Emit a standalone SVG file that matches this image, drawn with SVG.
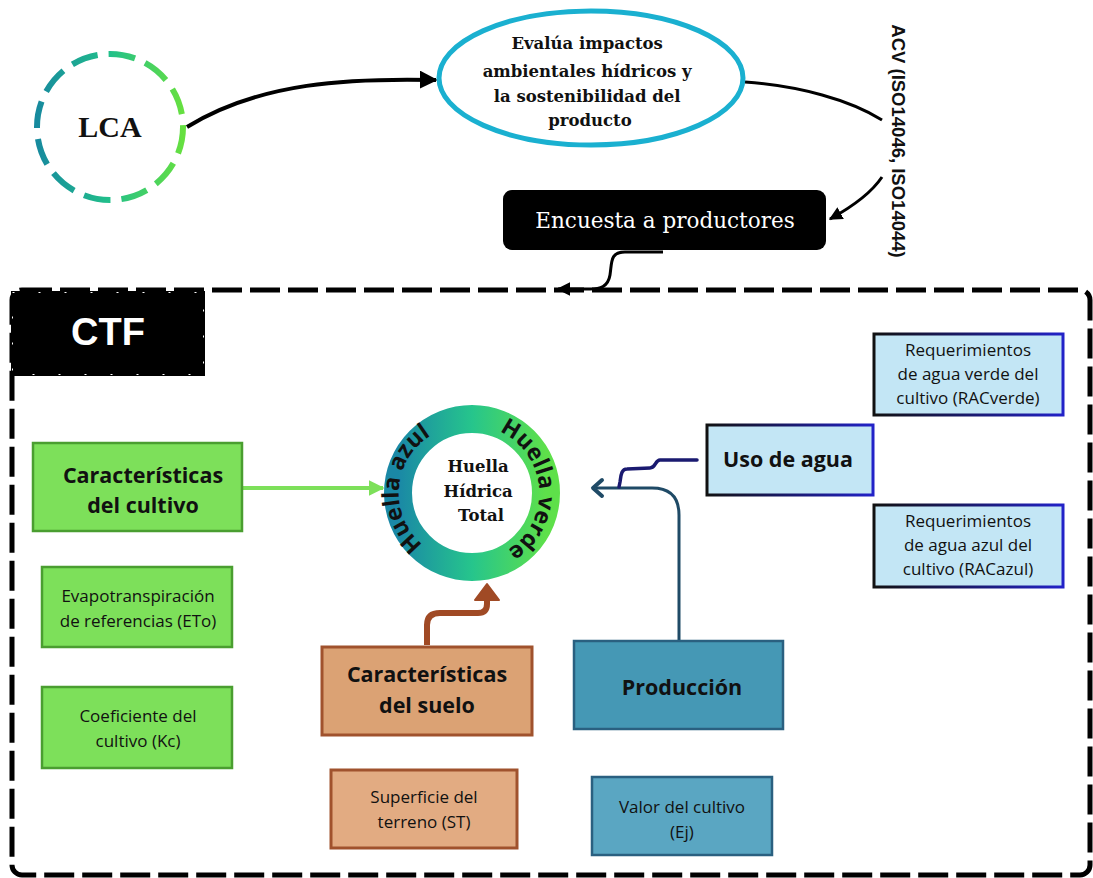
<svg xmlns="http://www.w3.org/2000/svg" width="1093" height="878" viewBox="0 0 1093 878">
<defs>
<style>
.serifb{font-family:"DejaVu Serif","Liberation Serif",serif;font-weight:bold;fill:#111}
.sans{font-family:"Open Sans","Liberation Sans",sans-serif;fill:#111}
.bold{font-weight:bold}
.conn{fill:none}
</style>
<linearGradient id="lcaGrad" x1="0" y1="0" x2="1" y2="0">
<stop offset="0" stop-color="#178a9e"/><stop offset="0.5" stop-color="#22c08a"/><stop offset="1" stop-color="#66e040"/>
</linearGradient>
<linearGradient id="ringGrad" x1="0" y1="0" x2="1" y2="0">
<stop offset="0" stop-color="#1a88a6"/><stop offset="0.5" stop-color="#26c58c"/><stop offset="1" stop-color="#5ee04a"/>
</linearGradient>
<linearGradient id="blueStroke" x1="0" y1="0" x2="1" y2="0">
<stop offset="0" stop-color="#111"/><stop offset="1" stop-color="#2222c8"/>
</linearGradient>
<marker id="arrBlack" viewBox="0 0 10 10" refX="9" refY="5" markerWidth="4.5" markerHeight="4.5" orient="auto" markerUnits="strokeWidth">
<path d="M0,0 L10,5 L0,10 z" fill="#000"/>
</marker>
<marker id="arrGreen" viewBox="0 0 10 10" refX="9" refY="5" markerWidth="4" markerHeight="4" orient="auto" markerUnits="strokeWidth">
<path d="M0,0 L10,5 L0,10 z" fill="#7de05a"/>
</marker>
<path id="arcAzul" d="M461,560 A67,67 0 0 1 470.8,426"/>
<path id="arcVerde" d="M473.2,426 A67,67 0 0 1 482.5,559.2"/>
</defs>

<rect width="1093" height="878" fill="#fff"/>

<!-- CTF frame -->
<g id="ctf-frame">
<rect x="12" y="290" width="1078" height="585" rx="10" fill="none" stroke="#000" stroke-width="5" stroke-dasharray="30 8"/>
</g>
<g id="ctf-label">
<rect x="11" y="291" width="194" height="85" fill="#000"/>
<rect x="12.5" y="292.5" width="191" height="82" fill="none" stroke="#fff" stroke-width="1" stroke-dasharray="2 24"/>
<text x="108" y="345" text-anchor="middle" font-family="Liberation Sans, Arial, sans-serif" font-weight="bold" font-size="38" fill="#fff">CTF</text>
</g>

<!-- connectors -->
<g id="connectors">
<path class="conn" d="M187,127 C260,82 350,78 436,80" stroke="#000" stroke-width="4" marker-end="url(#arrBlack)"/>
<path class="conn" d="M745,82 C800,86 850,100 882,120" stroke="#000" stroke-width="3"/>
<path class="conn" d="M882,177 C870,195 850,208 830,219" stroke="#000" stroke-width="3" marker-end="url(#arrBlack)"/>
<path class="conn" d="M663,252 L625,252 C610,252 612,262 610,275 C608,287 600,289 590,289 L558,289" stroke="#000" stroke-width="3" marker-end="url(#arrBlack)"/>
<path class="conn" d="M243,488 L383,488" stroke="#7de05a" stroke-width="4" marker-end="url(#arrGreen)"/>
<path class="conn" d="M427,645 L427,625 Q427,613 440,613 L478,613 Q487,613 487,604 L487,598" stroke="#a04a25" stroke-width="6"/>
<path d="M475,600 L487,584 L499,600 z" fill="#a04a25" stroke="#a04a25" stroke-width="2" stroke-linejoin="round"/>
<path class="conn" d="M679,640 L679,515 Q679,488 652,488 L596,488" stroke="#1f4a66" stroke-width="3"/>
<path class="conn" d="M697,460 L660,460 C655,460 656,468 650,468 L627,469 C621,469 621,476 620,482 L619,487" stroke="#1a1a70" stroke-width="3.5" stroke-linecap="round"/>
<polyline class="conn" points="602,480 593,488 602,496" stroke="#1f4a66" stroke-width="4" stroke-linejoin="round" stroke-linecap="round"/>
<text transform="translate(892,141) rotate(90)" text-anchor="middle" font-family="Liberation Sans, Arial, sans-serif" font-weight="bold" font-size="18.5" fill="#111">ACV (ISO14046, ISO14044)</text>
</g>

<!-- LCA -->
<g id="lca">
<circle cx="110" cy="127" r="73" fill="#fff" stroke="url(#lcaGrad)" stroke-width="6" stroke-dasharray="27 11"/>
<text x="110" y="137" text-anchor="middle" font-family="Liberation Serif, serif" font-weight="bold" font-size="30" fill="#111">LCA</text>
</g>

<!-- Ellipse -->
<g id="evalua">
<ellipse cx="591" cy="78" rx="152" ry="67" fill="#fff" stroke="#1ab0d0" stroke-width="5"/>
<text class="serifb" font-size="16.5" text-anchor="middle">
<tspan x="590" y="49">Evalúa impactos</tspan>
<tspan x="590" y="77">ambientales hídricos y</tspan>
<tspan x="590" y="102">la sostenibilidad del</tspan>
<tspan x="590" y="126">producto</tspan>
</text>
</g>

<!-- Encuesta -->
<g id="encuesta">
<rect x="503" y="190" width="323" height="60" rx="9" fill="#000"/>
<text x="665" y="228" text-anchor="middle" font-family="DejaVu Serif, Liberation Serif, serif" font-size="21.5" fill="#fff">Encuesta a productores</text>
</g>

<!-- Ring -->
<g id="huella-total">
<circle cx="472" cy="493" r="74" fill="#fff" stroke="url(#ringGrad)" stroke-width="28"/>
<text class="sans" font-size="23" font-weight="bold"><textPath href="#arcAzul" startOffset="50%" text-anchor="middle">Huella azul</textPath></text>
<text class="sans" font-size="23" font-weight="bold"><textPath href="#arcVerde" startOffset="50%" text-anchor="middle">Huella verde</textPath></text>
<text class="serifb" font-size="16.5" text-anchor="middle">
<tspan x="481" y="472">Huella</tspan>
<tspan x="481" y="497">Hídrica</tspan>
<tspan x="481" y="521">Total</tspan>
</text>
</g>

<!-- Green boxes -->
<g id="caract-cultivo">
<rect x="33" y="443" width="209" height="88" fill="#7de05a" stroke="#4a9e30" stroke-width="2.5"/>
<text class="sans bold" font-size="21.5" text-anchor="middle"><tspan x="143" y="483">Características</tspan><tspan x="143" y="513">del cultivo</tspan></text>
</g>
<g id="eto">
<rect x="42" y="567" width="190" height="80" fill="#7de05a" stroke="#4a9e30" stroke-width="2.5"/>
<text class="sans" font-size="17" text-anchor="middle"><tspan x="138" y="602">Evapotranspiración</tspan><tspan x="138" y="627">de referencias (ETo)</tspan></text>
</g>
<g id="kc">
<rect x="42" y="687" width="190" height="81" fill="#7de05a" stroke="#4a9e30" stroke-width="2.5"/>
<text class="sans" font-size="17" text-anchor="middle"><tspan x="138" y="722">Coeficiente del</tspan><tspan x="138" y="747">cultivo (Kc)</tspan></text>
</g>

<!-- Soil boxes -->
<g id="caract-suelo">
<rect x="322" y="647" width="210" height="88" fill="#dba274" stroke="#a0522d" stroke-width="3"/>
<text class="sans bold" font-size="21.5" text-anchor="middle"><tspan x="427" y="682">Características</tspan><tspan x="427" y="713">del suelo</tspan></text>
</g>
<g id="superficie">
<rect x="331" y="770" width="186" height="78" fill="#e2ab82" stroke="#a0522d" stroke-width="3"/>
<text class="sans" font-size="17" text-anchor="middle"><tspan x="424" y="803">Superficie del</tspan><tspan x="424" y="828">terreno (ST)</tspan></text>
</g>

<!-- Production boxes -->
<g id="produccion">
<rect x="574" y="641" width="209" height="88" fill="#4598b5" stroke="#2a6080" stroke-width="2.5"/>
<text class="sans bold" font-size="21.5" text-anchor="middle" x="682" y="695">Producción</text>
</g>
<g id="valor">
<rect x="592" y="777" width="180" height="78" fill="#5aa6c2" stroke="#2a6080" stroke-width="2.5"/>
<text class="sans" font-size="17" text-anchor="middle"><tspan x="682" y="813">Valor del cultivo</tspan><tspan x="682" y="838">(Ej)</tspan></text>
</g>

<!-- Water boxes -->
<g id="uso-agua">
<rect x="707" y="425" width="166" height="70" fill="#c3e6f5" stroke="url(#blueStroke)" stroke-width="3"/>
<text class="sans bold" font-size="21.5" text-anchor="middle" x="788" y="467">Uso de agua</text>
</g>
<g id="racverde">
<rect x="874" y="334" width="189" height="81" fill="#c3e6f5" stroke="url(#blueStroke)" stroke-width="3"/>
<text class="sans" font-size="17" text-anchor="middle"><tspan x="968" y="356">Requerimientos</tspan><tspan x="968" y="380">de agua verde del</tspan><tspan x="968" y="404">cultivo (RACverde)</tspan></text>
</g>
<g id="racazul">
<rect x="874" y="505" width="189" height="82" fill="#c3e6f5" stroke="url(#blueStroke)" stroke-width="3"/>
<text class="sans" font-size="17" text-anchor="middle"><tspan x="968" y="527">Requerimientos</tspan><tspan x="968" y="551">de agua azul del</tspan><tspan x="968" y="575">cultivo (RACazul)</tspan></text>
</g>
</svg>
